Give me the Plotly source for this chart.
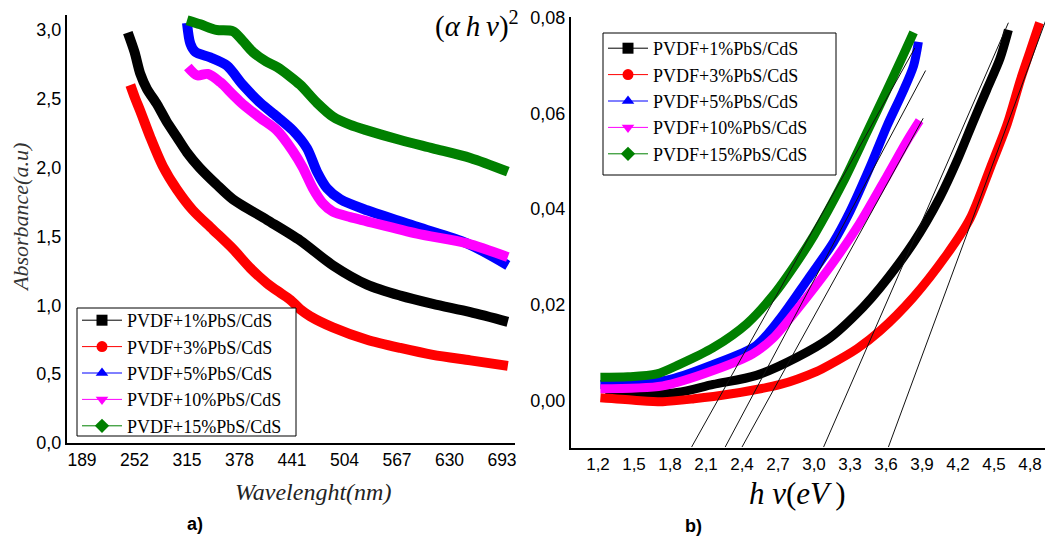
import plotly.graph_objects as go

W, H = 1046, 543

names = ["PVDF+1%PbS/CdS", "PVDF+3%PbS/CdS", "PVDF+5%PbS/CdS", "PVDF+10%PbS/CdS", "PVDF+15%PbS/CdS"]
colors = ["#000000", "#ff0000", "#0000ff", "#ff00ff", "#008000"]
symbols = ["square", "circle", "triangle-up", "triangle-down", "diamond"]

# ---------- panel a) absorbance vs wavelength ----------
wl_1 = [244, 252, 259, 267, 279, 290, 303, 315, 330, 350, 370, 411, 451, 490, 531, 571, 610, 655, 700]
ab_1 = [2.98, 2.84, 2.68, 2.57, 2.46, 2.34, 2.22, 2.11, 2.00, 1.88, 1.77, 1.62, 1.47, 1.29, 1.15, 1.07, 1.01, 0.95, 0.88]
wl_3 = [247, 253, 259, 271, 286, 303, 322, 346, 370, 391, 411, 427, 439, 451, 463, 490, 531, 571, 610, 655, 700]
ab_3 = [2.60, 2.50, 2.41, 2.22, 2.01, 1.84, 1.69, 1.55, 1.41, 1.27, 1.16, 1.09, 1.04, 0.97, 0.92, 0.84, 0.75, 0.69, 0.64, 0.60, 0.56]
wl_5 = [315, 319, 325, 343, 363, 382, 403, 423, 442, 459, 471, 483, 499, 531, 591, 651, 700]
ab_5 = [3.05, 2.90, 2.84, 2.80, 2.74, 2.60, 2.47, 2.37, 2.27, 2.14, 1.97, 1.85, 1.77, 1.69, 1.57, 1.45, 1.29]
wl_10 = [316, 327, 340, 355, 370, 382, 403, 423, 442, 454, 466, 478, 490, 511, 531, 591, 651, 700]
ab_10 = [2.73, 2.67, 2.68, 2.62, 2.53, 2.46, 2.36, 2.27, 2.12, 2.00, 1.85, 1.74, 1.68, 1.64, 1.61, 1.52, 1.45, 1.35]
wl_15 = [315, 331, 350, 370, 382, 394, 410, 423, 439, 451, 471, 490, 511, 531, 571, 610, 655, 700]
ab_15 = [3.07, 3.04, 3.00, 2.99, 2.92, 2.84, 2.77, 2.73, 2.66, 2.60, 2.47, 2.37, 2.31, 2.27, 2.20, 2.14, 2.07, 1.97]

wl_ticks = [189, 252, 315, 378, 441, 504, 567, 630, 693]
ab_ticks = [0.0, 0.5, 1.0, 1.5, 2.0, 2.5, 3.0]

# ---------- panel b) (alpha h nu)^2 vs h nu ----------
e_1 = [1.26, 1.50, 1.86, 2.16, 2.52, 2.86, 3.13, 3.41, 3.55, 3.83, 4.05, 4.19, 4.33, 4.44, 4.55, 4.62]
t_1 = [0.0010, 0.0010, 0.0016, 0.0033, 0.0052, 0.0090, 0.0130, 0.0195, 0.0235, 0.0330, 0.0425, 0.0500, 0.0585, 0.0650, 0.0715, 0.0775]
e_3 = [1.22, 1.50, 1.74, 2.00, 2.30, 2.72, 3.02, 3.13, 3.36, 3.55, 3.83, 4.11, 4.30, 4.47, 4.61, 4.72, 4.80, 4.88]
t_3 = [0.0005, 0.0000, -0.0003, 0.0003, 0.0013, 0.0033, 0.0060, 0.0074, 0.0108, 0.0145, 0.0216, 0.0306, 0.0380, 0.0487, 0.0578, 0.0670, 0.0730, 0.0790]
e_5 = [1.22, 1.77, 2.16, 2.52, 2.72, 2.94, 3.16, 3.30, 3.47, 3.61, 3.74, 3.83, 3.87]
t_5 = [0.0033, 0.0042, 0.0075, 0.0115, 0.0172, 0.0250, 0.0330, 0.0395, 0.0490, 0.0575, 0.0645, 0.0700, 0.0750]
e_10 = [1.22, 1.74, 2.16, 2.49, 2.66, 2.86, 3.13, 3.38, 3.61, 3.78, 3.88]
t_10 = [0.0024, 0.0030, 0.0062, 0.0097, 0.0130, 0.0190, 0.0278, 0.0370, 0.0470, 0.0545, 0.0585]
e_15 = [1.22, 1.45, 1.69, 1.88, 2.16, 2.44, 2.66, 2.86, 3.00, 3.24, 3.44, 3.61, 3.74, 3.83]
t_15 = [0.0048, 0.0049, 0.0055, 0.0075, 0.0110, 0.0160, 0.0220, 0.0290, 0.0345, 0.0455, 0.0560, 0.0650, 0.0720, 0.0770]

# linear extrapolation (tangent) lines: start on x axis, end near top
tan_e0 = [3.08, 3.62, 2.26, 2.40, 1.98]
tan_t0 = [-0.0098, -0.0098, -0.0098, -0.0098, -0.0098]
tan_e1 = [4.62, 4.93, 3.93, 3.91, 3.84]
tan_t1 = [0.0790, 0.0794, 0.0690, 0.0590, 0.0737]

e_ticks = [1.2, 1.5, 1.8, 2.1, 2.4, 2.7, 3.0, 3.3, 3.6, 3.9, 4.2, 4.5, 4.8]
t_ticks = [0.0, 0.02, 0.04, 0.06, 0.08]

A_x = [wl_1, wl_3, wl_5, wl_10, wl_15]
A_y = [ab_1, ab_3, ab_5, ab_10, ab_15]
B_x = [e_1, e_3, e_5, e_10, e_15]
B_y = [t_1, t_3, t_5, t_10, t_15]

fig = go.Figure()

# panel a bands
for i in range(5):
    fig.add_trace(go.Scatter(x=A_x[i], y=A_y[i], mode="lines", xaxis="x", yaxis="y",
                             line=dict(color=colors[i], width=10, shape="spline", smoothing=0.8),
                             showlegend=False, hoverinfo="skip"))
# panel b bands
for i in range(5):
    fig.add_trace(go.Scatter(x=B_x[i], y=B_y[i], mode="lines", xaxis="x2", yaxis="y2",
                             line=dict(color=colors[i], width=9, shape="spline", smoothing=0.8),
                             showlegend=False, hoverinfo="skip"))
# tangent lines
for i in range(5):
    fig.add_trace(go.Scatter(x=[tan_e0[i], tan_e1[i]], y=[tan_t0[i], tan_t1[i]], mode="lines",
                             xaxis="x2", yaxis="y2", line=dict(color="#111111", width=1),
                             showlegend=False, hoverinfo="skip"))

# legend entries (legend-only traces)
for leg, xa, ya in (("legend", "x", "y"), ("legend2", "x2", "y2")):
    for i in range(5):
        fig.add_trace(go.Scatter(x=[None], y=[None], mode="lines+markers", xaxis=xa, yaxis=ya,
                                 name=names[i], legend=leg,
                                 line=dict(color=colors[i], width=1),
                                 marker=dict(color=colors[i], symbol=symbols[i], size=11)))

sansf = "Liberation Sans, Arial, sans-serif"
legfont = dict(family="Liberation Serif, Times New Roman, serif", size=18, color="black")
axcommon = dict(showline=True, linecolor="black", linewidth=2, showgrid=False, zeroline=False,
                ticks="", automargin=False, mirror=False)

fig.update_layout(
    width=W, height=H,
    margin=dict(l=0, r=0, t=0, b=0),
    paper_bgcolor="white", plot_bgcolor="white",
    separators=",.",
    xaxis=dict(domain=[67 / W, 515 / W], range=[171, 708.6], tickvals=wl_ticks,
               tickfont=dict(family=sansf, size=17.5, color="black"), anchor="y", **axcommon),
    yaxis=dict(domain=[(H - 443) / H, (H - 15) / H], range=[0, 3.108], tickvals=ab_ticks,
               tickformat=".1f", tickfont=dict(family=sansf, size=18, color="black"), anchor="x", **axcommon),
    xaxis2=dict(domain=[571 / W, 1045 / W], range=[0.975, 4.925], tickvals=e_ticks, tickformat=".1f",
                tickfont=dict(family=sansf, size=17, color="black"), anchor="y2", **axcommon),
    yaxis2=dict(domain=[(H - 448) / H, (H - 17) / H], range=[-0.0100, 0.0802], tickvals=t_ticks,
                tickformat=".2f", tickfont=dict(family=sansf, size=18, color="black"), anchor="x2", **axcommon),
    legend=dict(x=77 / W, y=(H - 302) / H, xanchor="left", yanchor="top", bgcolor="rgba(0,0,0,0)",
                borderwidth=0, font=legfont, tracegroupgap=0, itemwidth=40),
    legend2=dict(x=603 / W, y=(H - 30) / H, xanchor="left", yanchor="top", bgcolor="rgba(0,0,0,0)",
                 borderwidth=0, font=legfont, tracegroupgap=0, itemwidth=40),
)

# legend frames (white boxes with black border, drawn above the data, below the legend entries)
for (x0, y0, x1, y1) in ((77, 308, 296, 436), (603, 33, 836, 175)):
    fig.add_shape(type="rect", xref="paper", yref="paper", layer="above",
                  x0=x0 / W, x1=x1 / W, y0=(H - y1) / H, y1=(H - y0) / H,
                  line=dict(color="black", width=1), fillcolor="white")

serif = "Liberation Serif, Times New Roman, serif"
annos = [
    dict(text="<i>Absorbance(a.u)</i>", x=20 / W, y=(H - 218) / H, textangle=-90,
         font=dict(family=serif, size=22, color="#333333")),
    dict(text="<i>Wavelenght(nm)</i>", x=313 / W, y=(H - 492) / H,
         font=dict(family=serif, size=24, color="#222222")),
    dict(text="<b>a)</b>", x=195 / W, y=(H - 524) / H, font=dict(family=sansf, size=18, color="black")),
    dict(text="<i>h ν</i>(<i>eV</i>\u2009)", x=797 / W, y=(H - 493) / H,
         font=dict(family=serif, size=31, color="black")),
    dict(text="<b>b)</b>", x=693 / W, y=(H - 526) / H, font=dict(family=sansf, size=18, color="black")),
    dict(text="(<i>α\u2009h\u2009ν</i>)<sup>2</sup>", x=477 / W, y=(H - 24) / H,
         font=dict(family=serif, size=29, color="black")),
]
for a in annos:
    fig.add_annotation(xref="paper", yref="paper", showarrow=False, xanchor="center", yanchor="middle", **a)

fig.write_html("out.html", config={"displayModeBar": False},
               post_script="document.body.style.margin='0';document.body.style.padding='0';")
